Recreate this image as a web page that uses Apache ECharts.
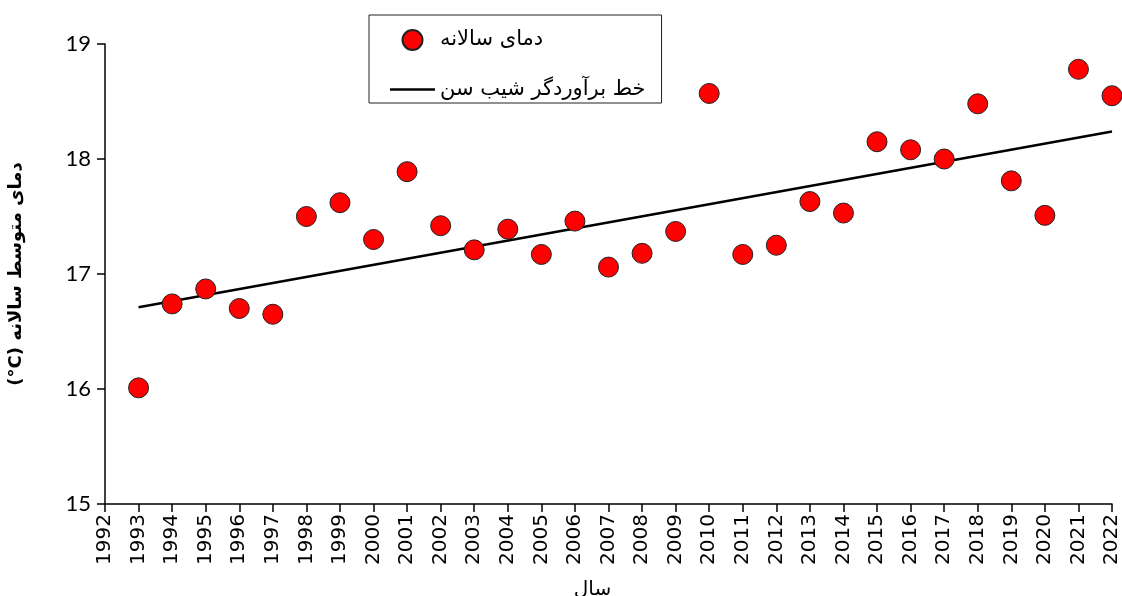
<!DOCTYPE html>
<html>
<head>
<meta charset="utf-8">
<script src="https://cdn.jsdelivr.net/npm/echarts@6/dist/echarts.min.js"></script>
<style>
html,body{margin:0;padding:0;background:#fff;}
#chart{width:1122px;height:596px;}
</style>
</head>
<body>
<div id="chart"></div>
<script>
const years = [1993,1994,1995,1996,1997,1998,1999,2000,2001,2002,2003,2004,2005,2006,2007,2008,2009,2010,2011,2012,2013,2014,2015,2016,2017,2018,2019,2020,2021,2022];
const annualTemp = [16.01,16.74,16.87,16.70,16.65,17.50,17.62,17.30,17.89,17.42,17.21,17.39,17.17,17.46,17.06,17.18,17.37,18.57,17.17,17.25,17.63,17.53,18.15,18.08,18.00,18.48,17.81,17.51,18.78,18.55];
const trendYears = [1993, 2022];
const trendValues = [16.71, 18.24];
const seriesNames = ['دمای سالانه', 'خط برآوردگر شیب سن'];
const xAxisTitle = 'سال';
const yAxisTitle = '(°C) دمای متوسط سالانه';

const chart = echarts.init(document.getElementById('chart'), null, {renderer: 'canvas'});
chart.setOption({
  animation: false,
  backgroundColor: '#fff',
  grid: {left: 105, right: 10, top: 44, bottom: 92, containLabel: false, outerBoundsMode: 'none'},
  legend: {
    orient: 'vertical',
    left: 369, top: 15,
    padding: [14, 16, 3, 21],
    itemGap: 28,
    itemWidth: 45, itemHeight: 20,
    borderColor: '#222', borderWidth: 1,
    backgroundColor: '#fff',
    textStyle: {fontFamily: 'DejaVu Sans', fontSize: 21, color: '#000'},
    data: [
      {name: seriesNames[0], icon: 'circle'},
      {name: seriesNames[1], icon: 'path://M0,0H45V2.5H0Z'}
    ]
  },
  xAxis: {
    type: 'value', min: 1992, max: 2022, interval: 1,
    name: xAxisTitle, nameLocation: 'middle', nameGap: 76,
    nameTextStyle: {fontFamily: 'DejaVu Sans', fontSize: 20, color: '#000', padding: [0, 32, 0, 0]},
    axisLine: {lineStyle: {color: '#000', width: 1.5}},
    axisTick: {inside: false, length: 8, lineStyle: {color: '#000', width: 1.5}},
    splitLine: {show: false},
    axisLabel: {rotate: 90, margin: 10, fontFamily: 'DejaVu Sans', fontSize: 20, color: '#000',
      formatter: v => String(v)}
  },
  yAxis: {
    type: 'value', min: 15, max: 19, interval: 1,
    name: yAxisTitle, nameLocation: 'middle', nameGap: 80, nameRotate: 90,
    nameTextStyle: {fontFamily: 'DejaVu Sans', fontSize: 18, fontWeight: 'bold', color: '#000'},
    axisLine: {show: true, lineStyle: {color: '#000', width: 1.5}},
    axisTick: {show: true, inside: false, length: 8, lineStyle: {color: '#000', width: 1.5}},
    splitLine: {show: false},
    axisLabel: {margin: 14, fontFamily: 'Lato', fontSize: 22, color: '#000'}
  },
  series: [
    {
      name: seriesNames[0], type: 'scatter', z: 5,
      symbol: 'circle', symbolSize: 20,
      itemStyle: {color: '#ff0000', opacity: 1, borderColor: '#222', borderWidth: 1},
      data: years.map((y, i) => [y, annualTemp[i]])
    },
    {
      name: seriesNames[1], type: 'line', z: 3,
      symbol: 'none', showSymbol: false,
      lineStyle: {color: '#000', width: 2.5},
      itemStyle: {color: '#000'},
      data: trendYears.map((y, i) => [y, trendValues[i]])
    }
  ]
});
</script>
</body>
</html>
